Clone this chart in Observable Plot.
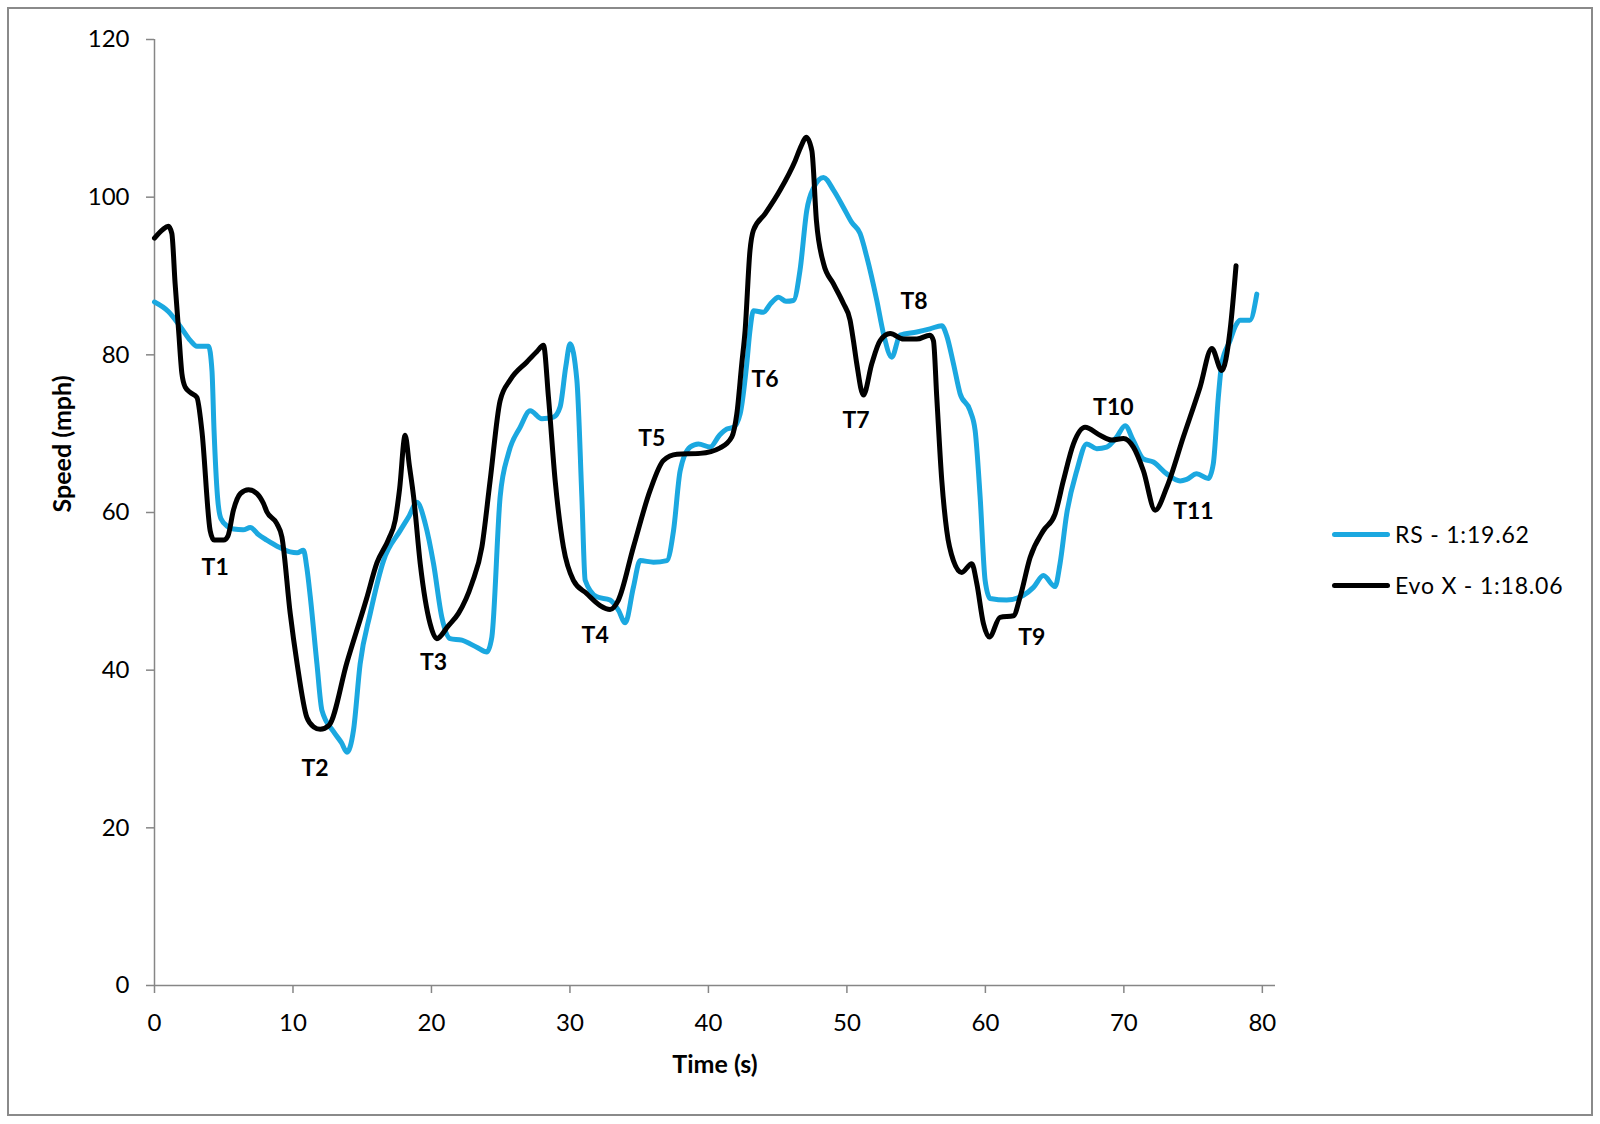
<!DOCTYPE html>
<html>
<head>
<meta charset="utf-8">
<script src="https://cdn.jsdelivr.net/npm/d3@7"></script>
<script src="https://cdn.jsdelivr.net/npm/@observablehq/plot@0.6"></script>
<style>
  html, body { margin: 0; padding: 0; background: #fff; }
  #wrap { position: relative; width: 1600px; height: 1124px; font-family: Lato, "Open Sans", sans-serif; }
  #frame { position: absolute; left: 7px; top: 7px; width: 1586px; height: 1109px; border: 2px solid #8a8a8a; box-sizing: border-box; }
  #chart { position: absolute; left: 0; top: 0; }
  #legend { position: absolute; left: 1332px; top: 517px; font-size: 23px; letter-spacing: 0.8px; color: #000; }
  .item { display: flex; align-items: center; height: 34px; margin-bottom: 17px; }
  .swatch { width: 58px; height: 5px; border-radius: 3px; margin-right: 5px; }
</style>
</head>
<body>
<div id="wrap">
  <div id="frame"></div>
  <div id="chart"></div>
  <div id="legend"></div>
</div>
<script>
// ---- data ----
const rsTime = [0, 1.0, 1.86, 2.6, 3.06, 3.9, 4.15, 4.3, 4.55, 4.8, 5.3, 5.71, 6.4, 6.92, 7.5, 8.11, 9.0, 9.8, 10.3, 10.76, 11.0, 11.25, 11.73, 12.09, 12.93, 13.5, 13.9, 14.37, 14.85, 15.58, 16.54, 17.74, 18.4, 18.95, 19.55, 20.15, 20.75, 21.35, 22.19, 23.27, 24.0, 24.36, 24.96, 25.56, 26.4, 27.13, 27.97, 28.81, 29.29, 29.7, 30.01, 30.5, 30.86, 31.1, 31.94, 32.9, 33.5, 33.99, 34.58, 35.07, 36.03, 37.0, 37.48, 37.96, 38.68, 39.28, 40.12, 40.8, 41.33, 41.81, 42.29, 42.77, 43.0, 43.25, 43.97, 44.5, 45.06, 45.6, 46.14, 46.62, 47.1, 47.6, 48.31, 49.03, 49.75, 50.35, 50.95, 51.44, 52.16, 52.64, 53.24, 53.84, 55.05, 56.0, 56.85, 57.21, 57.69, 58.17, 58.9, 59.26, 59.62, 59.98, 60.34, 61.54, 62.75, 63.47, 64.19, 65.03, 65.39, 65.87, 66.6, 67.32, 68.04, 68.76, 69.49, 70.09, 70.69, 71.41, 72.13, 73.1, 74.06, 74.54, 75.26, 76.1, 76.46, 76.82, 77.07, 77.67, 78.1, 78.4, 79.1, 79.6];
const rsSpeed = [86.7, 85.5, 83.6, 81.8, 81.1, 81.1, 78.0, 70.4, 62.0, 59.2, 58.2, 57.9, 57.8, 58.1, 57.2, 56.5, 55.6, 55.0, 54.9, 55.2, 53.0, 49.3, 40.8, 34.9, 32.2, 30.8, 29.6, 32.4, 40.8, 47.2, 53.9, 57.7, 59.6, 61.3, 58.6, 53.5, 46.7, 44.0, 43.8, 42.9, 42.3, 44.2, 62.0, 67.5, 70.8, 72.9, 71.9, 72.1, 73.4, 78.5, 81.4, 76.8, 62.0, 51.4, 49.3, 48.9, 47.6, 46.0, 50.5, 53.9, 53.7, 53.9, 57.7, 65.3, 68.3, 68.7, 68.3, 69.8, 70.6, 70.8, 72.5, 78.9, 83.1, 85.6, 85.4, 86.5, 87.3, 86.8, 86.9, 90.8, 98.3, 101.2, 102.5, 100.9, 98.7, 96.8, 95.4, 92.4, 86.9, 82.7, 79.7, 82.5, 82.9, 83.3, 83.7, 82.4, 78.9, 75.1, 72.9, 70.4, 62.0, 51.4, 49.1, 48.9, 49.5, 50.5, 52.0, 50.6, 53.5, 59.8, 65.3, 68.7, 68.1, 68.3, 69.6, 71.0, 69.1, 66.8, 66.4, 64.9, 64.0, 64.2, 64.9, 64.3, 66.2, 74.6, 78.9, 81.8, 83.8, 84.4, 84.4, 87.7];

const evoTime = [0, 0.6, 1.0, 1.25, 1.49, 1.74, 1.98, 2.22, 2.6, 3.06, 3.42, 4.02, 4.3, 5.0, 5.3, 5.7, 6.2, 6.79, 7.4, 7.88, 8.11, 8.83, 9.2, 9.8, 10.3, 11.0, 11.5, 11.97, 12.6, 13.9, 15.3, 16.06, 16.9, 17.38, 17.7, 18.1, 18.4, 18.71, 19.19, 19.9, 20.39, 21.2, 21.95, 22.92, 23.64, 24.24, 24.96, 25.68, 26.89, 27.6, 28.09, 28.45, 28.93, 29.53, 30.25, 31.22, 32.18, 32.9, 33.5, 34.58, 35.79, 36.75, 37.72, 39.4, 40.85, 41.69, 42.05, 42.41, 42.65, 43.0, 43.25, 44.1, 45.18, 46.26, 46.7, 47.06, 47.47, 47.8, 48.31, 49.03, 49.75, 50.23, 50.47, 50.71, 51.19, 51.8, 52.4, 53.12, 54.09, 55.05, 56.0, 56.25, 56.49, 56.85, 57.21, 57.69, 58.29, 59.02, 59.38, 59.86, 60.29, 61.06, 62.03, 62.51, 63.23, 64.19, 65.03, 65.64, 66.36, 67.2, 68.28, 69.13, 69.97, 70.69, 71.41, 72.26, 73.1, 74.3, 75.5, 76.35, 77.07, 77.67, 78.1];
const evoSpeed = [94.8, 95.9, 96.3, 95.4, 89.0, 83.1, 77.6, 75.9, 75.2, 74.6, 70.4, 57.7, 56.5, 56.5, 57.0, 60.3, 62.4, 62.9, 62.4, 61.1, 60.1, 58.6, 56.9, 47.2, 40.8, 34.0, 32.8, 32.5, 33.0, 41.0, 49.0, 53.6, 56.6, 59.0, 63.0, 69.8, 66.0, 62.0, 53.5, 45.9, 44.0, 45.6, 47.2, 51.0, 55.6, 64.1, 74.2, 76.8, 79.1, 80.4, 81.2, 74.6, 64.1, 55.6, 51.4, 49.7, 48.2, 47.7, 48.9, 55.6, 62.8, 66.6, 67.4, 67.5, 68.2, 69.6, 72.5, 78.9, 83.1, 93.2, 95.8, 97.9, 100.9, 104.6, 106.5, 107.6, 105.9, 97.0, 91.6, 89.0, 86.5, 84.4, 81.8, 78.9, 74.9, 78.9, 81.8, 82.7, 82.0, 82.0, 82.5, 81.8, 74.6, 64.1, 57.7, 53.9, 52.4, 53.5, 51.0, 45.9, 44.2, 46.7, 46.9, 49.3, 54.3, 57.7, 59.8, 64.1, 68.7, 70.8, 69.8, 69.2, 69.4, 68.3, 65.3, 60.3, 63.2, 69.6, 75.9, 80.8, 78.0, 83.1, 91.3];

const turnNames = ["T1", "T2", "T3", "T4", "T5", "T6", "T7", "T8", "T9", "T10", "T11"];
const turnTime  = [4.38, 11.6, 20.15, 31.82, 35.91, 44.09, 50.66, 54.85, 63.35, 69.24, 75.02];
const turnSpeed = [53.0, 27.5, 41.0, 44.4, 69.4, 76.8, 71.7, 86.7, 44.1, 73.3, 60.1];

const seriesNames = ["RS - 1:19.62", "Evo X - 1:18.06"];
const seriesColors = ["#1ba8e0", "#000000"];
const xTicks = [0, 10, 20, 30, 40, 50, 60, 70, 80];
const yTicks = [0, 20, 40, 60, 80, 100, 120];

// ---- build ----
const rs = rsTime.map((t, i) => ({t, v: rsSpeed[i]}));
const evo = evoTime.map((t, i) => ({t, v: evoSpeed[i]}));
const turns = turnNames.map((n, i) => ({n, t: turnTime[i], v: turnSpeed[i]}));
const axisGray = "#868686";

const chart = Plot.plot({
  width: 1600,
  height: 1124,
  marginLeft: 154,
  marginRight: 325,
  marginTop: 39,
  marginBottom: 139,
  style: {fontFamily: "Lato, 'Open Sans', sans-serif", background: "transparent", color: "#000"},
  x: {domain: [0, 80.95]},
  y: {domain: [0, 120]},
  marks: [
    Plot.axisY({ticks: yTicks, tickSize: 8, tickPadding: 17, stroke: axisGray, strokeWidth: 1.5, fontSize: 24, label: null}),
    Plot.axisX({ticks: xTicks, tickSize: 8, tickPadding: 20, stroke: axisGray, strokeWidth: 1.5, fontSize: 24, label: null}),
    Plot.ruleX([0], {stroke: axisGray, strokeWidth: 1.5}),
    Plot.ruleY([0], {stroke: axisGray, strokeWidth: 1.5}),
    Plot.line(rs, {x: "t", y: "v", stroke: seriesColors[0], strokeWidth: 5, curve: "monotone-x", strokeLinejoin: "round"}),
    Plot.line(evo, {x: "t", y: "v", stroke: seriesColors[1], strokeWidth: 5, curve: "monotone-x", strokeLinejoin: "round"}),
    Plot.text(turns, {x: "t", y: "v", text: "n", fontSize: 23, fontWeight: "bold", fill: "#000"}),
    Plot.text(["Speed (mph)"], {text: d => d, frameAnchor: "left", dx: -92, rotate: -90, fontSize: 25, fontWeight: "bold", fill: "#000"}),
    Plot.text(["Time (s)"], {text: d => d, frameAnchor: "bottom", dy: 87, fontSize: 25, fontWeight: "bold", fill: "#000"})
  ]
});
document.getElementById("chart").appendChild(chart);

const legend = document.getElementById("legend");
seriesNames.forEach((name, i) => {
  const item = document.createElement("div");
  item.className = "item";
  const sw = document.createElement("div");
  sw.className = "swatch";
  sw.style.background = seriesColors[i];
  const label = document.createElement("span");
  label.textContent = name;
  item.appendChild(sw);
  item.appendChild(label);
  legend.appendChild(item);
});
</script>
</body>
</html>
